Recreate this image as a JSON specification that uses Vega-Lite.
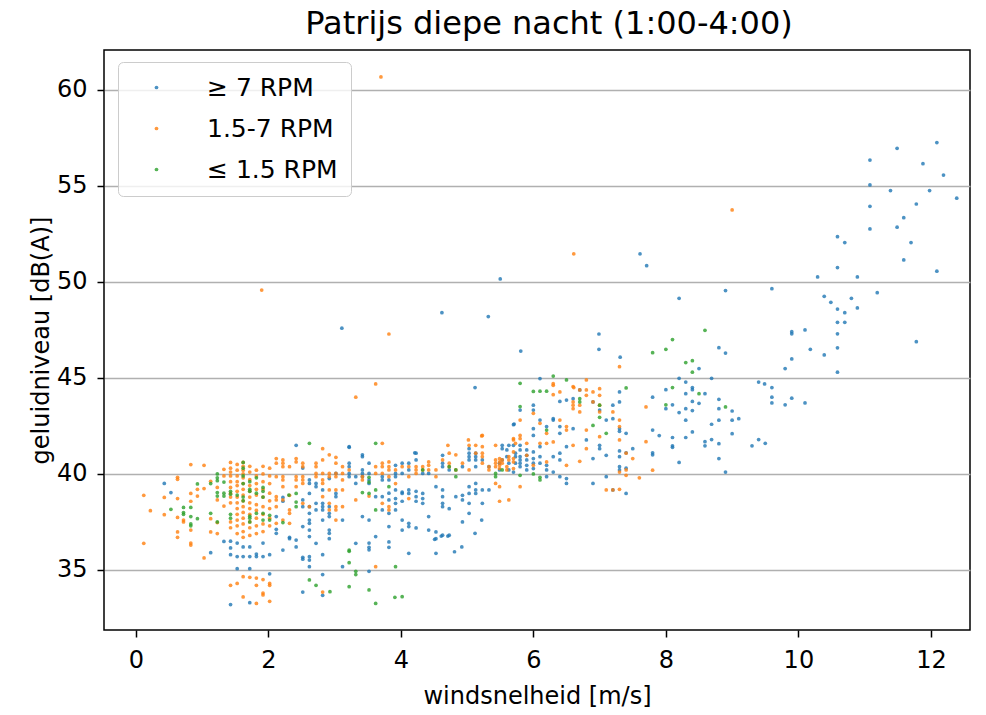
{
"$schema": "https://vega.github.io/schema/vega-lite/v6.json",
"width": 866, "height": 580,
"autosize": "none",
"padding": {"left": 104, "top": 50, "right": 16, "bottom": 85},
"background": "white",
"title": {"text": "Patrijs diepe nacht (1:00-4:00)", "fontSize": 32, "font": "DejaVu Sans", "fontWeight": "normal", "color": "black", "offset": 9, "dx": 12},
"config": {
 "view": {"stroke": "black", "strokeWidth": 1.5},
 "legend": {"orient": "none", "legendX": 14, "legendY": 12, "labelFontSize": 25, "labelFont": "DejaVu Sans", "labelColor": "black", "padding": 13, "rowPadding": 15, "fillColor": "rgba(255,255,255,0.8)", "strokeColor": "#cccccc", "cornerRadius": 5, "symbolType": "circle", "symbolSize": 14, "symbolOffset": 13, "labelOffset": 38, "labelAlign": "left", "symbolStrokeWidth": 0, "symbolOpacity": 0.8}
},
"datasets": {
"hi": [
{"w":0.43,"l":39.51},{"w":0.53,"l":39.03},{"w":1.13,"l":35.9},{"w":1.33,"l":36.49},{"w":1.43,"l":36.5},{"w":1.43,"l":36.15},{"w":1.43,"l":35.8},{"w":1.43,"l":33.2},{"w":1.53,"l":36.4},{"w":1.53,"l":35.7},{"w":1.53,"l":35.07},
{"w":1.62,"l":36.2},{"w":1.62,"l":35.7},{"w":1.72,"l":36.2},{"w":1.72,"l":35.7},{"w":1.72,"l":35.07},{"w":1.72,"l":33.3},{"w":1.82,"l":35.7},{"w":1.82,"l":35.83},{"w":1.92,"l":36.4},{"w":1.92,"l":35.7},{"w":2.02,"l":35.8},{"w":2.02,"l":34.8},
{"w":2.12,"l":37.78},{"w":2.12,"l":37.12},{"w":2.12,"l":36.91},{"w":2.22,"l":36.04},{"w":2.22,"l":38.78},{"w":2.22,"l":38.58},{"w":2.32,"l":36.7},{"w":2.32,"l":36.63},{"w":2.42,"l":41.49},{"w":2.42,"l":36.56},{"w":2.42,"l":36.2},
{"w":2.52,"l":38.65},{"w":2.52,"l":38.3},{"w":2.52,"l":37.26},{"w":2.52,"l":35.66},{"w":2.52,"l":35.56},{"w":2.52,"l":33.85},{"w":2.52,"l":40.31},
{"w":2.62,"l":39.69},{"w":2.62,"l":39.51},{"w":2.62,"l":38.99},{"w":2.62,"l":38.3},{"w":2.62,"l":37.95},{"w":2.62,"l":37.6},{"w":2.62,"l":37.43},{"w":2.62,"l":37.08},{"w":2.62,"l":36.74},{"w":2.62,"l":35.69},{"w":2.62,"l":35.52},{"w":2.62,"l":35.17},
{"w":2.72,"l":39.51},{"w":2.72,"l":39.34},{"w":2.72,"l":38.47},{"w":2.72,"l":38.13},{"w":2.72,"l":36.39},
{"w":2.82,"l":38.47},{"w":2.82,"l":38.3},{"w":2.82,"l":38.13},{"w":2.82,"l":37.6},{"w":2.82,"l":34.76},{"w":2.82,"l":33.68},{"w":2.82,"l":39.17},{"w":2.82,"l":35.8},
{"w":2.92,"l":39.76},{"w":2.92,"l":38.3},{"w":2.92,"l":37.95},{"w":2.92,"l":37.78},{"w":2.92,"l":37.08},{"w":2.92,"l":36.91},{"w":2.92,"l":36.63},
{"w":3.02,"l":40.03},{"w":3.02,"l":38.99},{"w":3.02,"l":38.82},{"w":3.12,"l":37.6},{"w":3.12,"l":35.17},
{"w":3.22,"l":41.42},{"w":3.22,"l":40.56},{"w":3.22,"l":40.38},{"w":3.22,"l":40.03},{"w":3.22,"l":39.86},{"w":3.22,"l":41.39},
{"w":3.32,"l":39.86},{"w":3.32,"l":39.51},{"w":3.32,"l":36.39},
{"w":3.42,"l":41.0},{"w":3.42,"l":40.9},{"w":3.42,"l":40.21},{"w":3.42,"l":40.03},{"w":3.42,"l":39.86},{"w":3.42,"l":37.78},
{"w":3.52,"l":40.56},{"w":3.52,"l":40.03},{"w":3.52,"l":39.69},{"w":3.52,"l":39.51},{"w":3.52,"l":37.6},{"w":3.52,"l":36.18},{"w":3.52,"l":34.93},{"w":3.52,"l":36.4},{"w":3.52,"l":36.05},
{"w":3.62,"l":38.82},{"w":3.62,"l":36.74},
{"w":3.72,"l":39.86},{"w":3.72,"l":39.69},{"w":3.72,"l":38.82},{"w":3.72,"l":38.13},
{"w":3.82,"l":39.69},{"w":3.82,"l":39.0},{"w":3.82,"l":38.65},{"w":3.82,"l":37.95},{"w":3.82,"l":37.26},{"w":3.82,"l":36.46},{"w":3.82,"l":36.18},
{"w":3.92,"l":40.45},{"w":3.92,"l":40.03},{"w":3.92,"l":39.86},{"w":3.92,"l":39.17},{"w":3.92,"l":38.72},{"w":3.92,"l":38.47},{"w":3.92,"l":38.13},
{"w":4.02,"l":40.56},{"w":4.02,"l":40.03},{"w":4.02,"l":39.06},{"w":4.02,"l":38.99},{"w":4.02,"l":38.58},{"w":4.02,"l":37.6},{"w":4.02,"l":37.08},
{"w":4.12,"l":40.56},{"w":4.12,"l":40.21},{"w":4.12,"l":39.17},{"w":4.12,"l":38.99},{"w":4.12,"l":37.43},{"w":4.12,"l":37.26},{"w":4.12,"l":35.87},
{"w":4.21,"l":41.1},{"w":4.23,"l":41.08},{"w":4.23,"l":40.73},{"w":4.23,"l":39.1},{"w":4.23,"l":38.82},{"w":4.23,"l":38.58},{"w":4.23,"l":37.19},
{"w":4.33,"l":40.03},{"w":4.33,"l":38.99},{"w":4.33,"l":38.72},{"w":4.33,"l":38.47},
{"w":4.42,"l":40.03},{"w":4.42,"l":37.78},{"w":4.42,"l":37.08},
{"w":4.51,"l":36.6},{"w":4.53,"l":39.34},{"w":4.53,"l":36.98},{"w":4.53,"l":36.63},{"w":4.53,"l":35.87},{"w":4.61,"l":36.77},
{"w":4.63,"l":40.97},{"w":4.63,"l":40.56},{"w":4.63,"l":40.38},{"w":4.63,"l":39.17},{"w":4.63,"l":38.82},{"w":4.63,"l":38.47},{"w":4.63,"l":38.3},{"w":4.63,"l":36.81},
{"w":4.71,"l":36.77},{"w":4.73,"l":40.21},{"w":4.73,"l":38.19},{"w":4.73,"l":36.81},{"w":4.81,"l":35.95},{"w":4.83,"l":38.82},{"w":4.92,"l":36.2},
{"w":4.93,"l":40.38},{"w":4.93,"l":38.89},{"w":4.93,"l":38.65},{"w":4.93,"l":37.5},
{"w":5.03,"l":41.32},{"w":5.03,"l":41.08},{"w":5.03,"l":40.9},{"w":5.03,"l":40.73},{"w":5.03,"l":39.34},{"w":5.03,"l":38.99},{"w":5.03,"l":38.47},{"w":5.03,"l":37.95},
{"w":5.12,"l":36.91},{"w":5.12,"l":44.5},
{"w":5.13,"l":41.08},{"w":5.13,"l":40.9},{"w":5.13,"l":40.73},{"w":5.13,"l":40.38},{"w":5.13,"l":39.51},{"w":5.13,"l":39.17},{"w":5.13,"l":38.99},
{"w":5.22,"l":37.6},{"w":5.23,"l":40.73},{"w":5.23,"l":39.17},{"w":5.23,"l":38.47},{"w":5.33,"l":40.38},{"w":5.33,"l":39.17},
{"w":5.49,"l":40.56},{"w":5.49,"l":40.21},{"w":5.53,"l":41.49},{"w":5.53,"l":41.32},{"w":5.53,"l":40.73},
{"w":5.6,"l":41.25},{"w":5.6,"l":40.9},{"w":5.63,"l":41.49},{"w":5.63,"l":40.56},{"w":5.63,"l":40.21},
{"w":5.7,"l":42.57},{"w":5.7,"l":41.49},{"w":5.7,"l":40.1},{"w":5.71,"l":42.6},{"w":5.73,"l":41.08},{"w":5.73,"l":40.9},{"w":5.73,"l":40.56},
{"w":5.5,"l":50.16},{"w":4.62,"l":48.4},{"w":5.32,"l":48.2},{"w":3.11,"l":47.59},{"w":5.81,"l":46.4},
{"w":5.8,"l":43.33},{"w":5.8,"l":41.49},{"w":5.8,"l":41.25},{"w":5.8,"l":40.9},{"w":5.8,"l":40.73},{"w":5.8,"l":40.56},{"w":5.8,"l":40.38},
{"w":5.9,"l":41.25},{"w":5.9,"l":40.97},{"w":5.9,"l":40.73},{"w":5.9,"l":40.45},{"w":5.9,"l":40.21},
{"w":6.0,"l":43.58},{"w":6.0,"l":43.33},{"w":6.0,"l":42.36},{"w":6.0,"l":42.01},{"w":6.0,"l":41.15},{"w":6.0,"l":40.8},{"w":6.0,"l":40.56},{"w":6.0,"l":40.28},
{"w":6.1,"l":44.97},{"w":6.1,"l":42.81},{"w":6.1,"l":41.42},{"w":6.1,"l":40.9},{"w":6.1,"l":40.56},
{"w":6.2,"l":42.47},{"w":6.2,"l":40.45},{"w":6.2,"l":40.21},{"w":6.2,"l":39.86},
{"w":6.3,"l":42.88},{"w":6.3,"l":42.81},{"w":6.3,"l":40.9},{"w":6.3,"l":40.1},
{"w":6.4,"l":43.78},{"w":6.4,"l":42.47},{"w":6.4,"l":42.12},{"w":6.4,"l":41.08},{"w":6.4,"l":40.73},{"w":6.4,"l":39.86},
{"w":6.5,"l":43.85},{"w":6.5,"l":41.42},{"w":6.5,"l":39.76},{"w":6.5,"l":39.51},
{"w":6.6,"l":43.92},{"w":6.6,"l":42.36},{"w":6.7,"l":44.38},{"w":6.8,"l":41.77},
{"w":6.9,"l":43.75},{"w":6.9,"l":40.8},{"w":6.9,"l":39.51},{"w":6.99,"l":47.29},{"w":6.99,"l":46.49},
{"w":7.0,"l":43.33},{"w":7.0,"l":41.49},{"w":7.0,"l":41.32},{"w":7.1,"l":42.81},{"w":7.1,"l":40.97},{"w":7.1,"l":39.86},
{"w":7.2,"l":43.58},{"w":7.2,"l":42.88},{"w":7.2,"l":39.17},
{"w":7.3,"l":44.27},{"w":7.3,"l":43.75},{"w":7.3,"l":42.36},{"w":7.3,"l":42.22},{"w":7.3,"l":40.38},{"w":7.3,"l":40.21},{"w":7.3,"l":41.2},{"w":7.3,"l":40.9},{"w":7.31,"l":46.08},
{"w":7.4,"l":42.12},{"w":7.4,"l":38.99},{"w":7.4,"l":41.1},{"w":7.4,"l":40.3},{"w":7.5,"l":41.32},
{"w":7.61,"l":51.46},{"w":7.71,"l":50.85},
{"w":7.8,"l":44.0},{"w":7.8,"l":42.29},{"w":7.8,"l":41.0},{"w":7.8,"l":41.1},{"w":7.9,"l":42.0},
{"w":8.0,"l":44.39},{"w":8.0,"l":43.4},{"w":8.1,"l":43.6},{"w":8.1,"l":41.9},{"w":8.1,"l":41.47},{"w":8.1,"l":41.39},
{"w":8.2,"l":49.15},{"w":8.2,"l":44.98},{"w":8.2,"l":43.2},{"w":8.2,"l":40.6},
{"w":8.3,"l":44.79},{"w":8.3,"l":44.18},{"w":8.3,"l":43.4},{"w":8.3,"l":42.8},{"w":8.3,"l":41.9},
{"w":8.4,"l":44.5},{"w":8.4,"l":44.39},{"w":8.4,"l":43.78},{"w":8.4,"l":43.3},{"w":8.4,"l":42.19},
{"w":8.5,"l":45.49},{"w":8.5,"l":43.68},{"w":8.59,"l":44.18},{"w":8.59,"l":41.68},{"w":8.59,"l":41.47},
{"w":8.69,"l":44.98},{"w":8.69,"l":42.59},{"w":8.69,"l":41.79},
{"w":8.8,"l":46.58},{"w":8.8,"l":43.89},{"w":8.8,"l":43.4},{"w":8.8,"l":42.8},{"w":8.8,"l":41.58},{"w":8.8,"l":40.8},
{"w":8.9,"l":49.55},{"w":8.9,"l":46.3},{"w":8.9,"l":40.1},
{"w":9.0,"l":43.28},{"w":9.0,"l":42.8},{"w":9.0,"l":42.1},{"w":9.1,"l":42.88},
{"w":9.3,"l":41.47},{"w":9.4,"l":41.79},{"w":9.4,"l":44.79},{"w":9.49,"l":44.69},{"w":9.5,"l":41.6},
{"w":9.6,"l":49.65},{"w":9.6,"l":44.5},{"w":9.6,"l":44.0},{"w":9.6,"l":43.7},
{"w":9.8,"l":45.49},{"w":9.8,"l":43.6},{"w":9.9,"l":47.41},{"w":9.9,"l":47.3},{"w":9.9,"l":45.99},{"w":9.9,"l":43.95},
{"w":10.1,"l":47.5},{"w":10.1,"l":43.7},{"w":10.18,"l":46.49},{"w":10.29,"l":50.26},{"w":10.39,"l":49.25},{"w":10.39,"l":46.2},{"w":10.49,"l":48.94},
{"w":10.59,"l":52.36},{"w":10.59,"l":50.75},{"w":10.59,"l":48.59},{"w":10.59,"l":47.9},{"w":10.59,"l":47.3},{"w":10.59,"l":46.57},{"w":10.59,"l":45.3},
{"w":10.7,"l":52.05},{"w":10.7,"l":48.4},{"w":10.7,"l":47.9},{"w":10.8,"l":49.15},{"w":10.89,"l":50.26},{"w":10.89,"l":48.65},
{"w":11.08,"l":56.35},{"w":11.08,"l":55.05},{"w":11.08,"l":53.94},{"w":11.08,"l":52.76},{"w":11.19,"l":49.44},{"w":11.39,"l":54.76},
{"w":11.49,"l":56.96},{"w":11.49,"l":52.85},{"w":11.59,"l":53.35},{"w":11.59,"l":51.15},{"w":11.7,"l":52.05},
{"w":11.78,"l":54.06},{"w":11.78,"l":46.89},{"w":11.88,"l":56.16},{"w":11.98,"l":54.76},{"w":12.09,"l":57.26},{"w":12.09,"l":50.56},{"w":12.19,"l":55.57},{"w":12.39,"l":54.36}
],
"mid": [
{"w":0.12,"l":38.89},{"w":0.12,"l":36.39},{"w":0.22,"l":38.09},{"w":0.43,"l":38.78},{"w":0.43,"l":37.88},
{"w":0.63,"l":39.83},{"w":0.63,"l":39.72},{"w":0.63,"l":38.72},{"w":0.63,"l":37.74},{"w":0.63,"l":36.98},{"w":0.63,"l":36.7},
{"w":0.72,"l":37.6},{"w":0.72,"l":37.5},{"w":0.83,"l":40.49},{"w":0.83,"l":38.58},{"w":0.83,"l":37.08},{"w":0.83,"l":36.4},{"w":0.83,"l":36.3},{"w":0.83,"l":38.99},
{"w":0.93,"l":39.2},{"w":0.93,"l":38.85},{"w":1.03,"l":40.45},{"w":1.03,"l":39.24},{"w":1.03,"l":35.63},
{"w":1.13,"l":39.62},{"w":1.13,"l":37.67},{"w":1.13,"l":36.98},{"w":1.23,"l":38.65},{"w":1.23,"l":37.47},{"w":1.23,"l":36.9},{"w":1.23,"l":39.3},
{"w":1.33,"l":40.24},{"w":1.33,"l":38.33},{"w":1.33,"l":39.9},
{"w":1.43,"l":40.6},{"w":1.43,"l":40.3},{"w":1.43,"l":40.1},{"w":1.43,"l":39.9},{"w":1.43,"l":39.6},{"w":1.43,"l":39.3},{"w":1.43,"l":39.0},{"w":1.43,"l":38.8},{"w":1.43,"l":38.5},{"w":1.43,"l":37.5},{"w":1.43,"l":37.2},{"w":1.43,"l":34.2},
{"w":1.53,"l":40.5},{"w":1.53,"l":40.2},{"w":1.53,"l":39.9},{"w":1.53,"l":39.6},{"w":1.53,"l":39.4},{"w":1.53,"l":39.1},{"w":1.53,"l":38.8},{"w":1.53,"l":38.5},{"w":1.53,"l":38.2},{"w":1.53,"l":37.9},{"w":1.53,"l":37.6},{"w":1.53,"l":37.3},{"w":1.53,"l":36.9},{"w":1.53,"l":34.3},
{"w":1.62,"l":40.6},{"w":1.62,"l":40.4},{"w":1.62,"l":40.2},{"w":1.62,"l":40.0},{"w":1.62,"l":39.8},{"w":1.62,"l":39.5},{"w":1.62,"l":39.2},{"w":1.62,"l":38.9},{"w":1.62,"l":38.6},{"w":1.62,"l":38.3},{"w":1.62,"l":38.0},{"w":1.62,"l":37.7},{"w":1.62,"l":37.4},{"w":1.62,"l":37.0},{"w":1.62,"l":36.7},{"w":1.62,"l":34.65},{"w":1.62,"l":33.6},
{"w":1.72,"l":40.4},{"w":1.72,"l":40.1},{"w":1.72,"l":39.7},{"w":1.72,"l":39.4},{"w":1.72,"l":39.1},{"w":1.72,"l":38.8},{"w":1.72,"l":38.5},{"w":1.72,"l":38.2},{"w":1.72,"l":37.9},{"w":1.72,"l":37.5},{"w":1.72,"l":37.2},{"w":1.72,"l":36.8},{"w":1.72,"l":34.62},
{"w":1.82,"l":40.2},{"w":1.82,"l":39.9},{"w":1.82,"l":39.5},{"w":1.82,"l":39.2},{"w":1.82,"l":38.9},{"w":1.82,"l":38.4},{"w":1.82,"l":38.1},{"w":1.82,"l":37.7},{"w":1.82,"l":37.3},{"w":1.82,"l":36.9},{"w":1.82,"l":34.58},{"w":1.82,"l":34.2},{"w":1.82,"l":33.26},
{"w":1.92,"l":40.4},{"w":1.92,"l":40.0},{"w":1.92,"l":39.6},{"w":1.92,"l":39.2},{"w":1.92,"l":38.8},{"w":1.92,"l":38.3},{"w":1.92,"l":37.9},{"w":1.92,"l":37.4},{"w":1.92,"l":37.0},{"w":1.92,"l":34.5},{"w":1.92,"l":33.8},{"w":1.92,"l":33.7},
{"w":2.02,"l":40.3},{"w":2.02,"l":39.9},{"w":2.02,"l":39.5},{"w":2.02,"l":39.0},{"w":2.02,"l":38.6},{"w":2.02,"l":38.2},{"w":2.02,"l":37.7},{"w":2.02,"l":37.3},{"w":2.02,"l":34.3},{"w":2.02,"l":34.2},{"w":2.02,"l":33.37},
{"w":2.12,"l":40.8},{"w":2.12,"l":40.56},{"w":2.12,"l":39.86},{"w":2.12,"l":38.82},{"w":2.12,"l":38.65},{"w":2.12,"l":38.3},{"w":2.12,"l":37.43},
{"w":2.22,"l":40.73},{"w":2.22,"l":40.56},{"w":2.22,"l":40.38},{"w":2.22,"l":39.86},{"w":2.22,"l":39.69},{"w":2.22,"l":39.34},{"w":2.22,"l":38.65},{"w":2.22,"l":37.6},
{"w":2.32,"l":40.38},{"w":2.32,"l":38.89},{"w":2.32,"l":38.13},{"w":2.32,"l":37.95},{"w":2.32,"l":37.43},
{"w":2.42,"l":40.8},{"w":2.42,"l":40.63},{"w":2.42,"l":39.86},{"w":2.42,"l":39.69},{"w":2.42,"l":39.34},
{"w":2.52,"l":40.56},{"w":2.52,"l":40.38},{"w":2.52,"l":39.86},{"w":2.52,"l":39.69},{"w":2.52,"l":39.51},{"w":2.52,"l":38.47},
{"w":2.62,"l":38.3},{"w":2.72,"l":40.56},{"w":2.72,"l":40.38},{"w":2.72,"l":40.03},{"w":2.72,"l":39.86},
{"w":2.82,"l":41.32},{"w":2.82,"l":40.73},{"w":2.82,"l":40.03},{"w":2.82,"l":39.69},{"w":2.82,"l":39.51},{"w":2.82,"l":38.82},{"w":2.82,"l":33.85},
{"w":2.92,"l":41.0},{"w":2.92,"l":40.03},{"w":2.92,"l":39.86},{"w":2.92,"l":39.17},{"w":2.92,"l":38.47},{"w":2.92,"l":38.13},
{"w":3.02,"l":40.87},{"w":3.02,"l":40.56},{"w":3.02,"l":40.03},{"w":3.02,"l":39.86},{"w":3.02,"l":39.17},{"w":3.02,"l":38.3},{"w":3.02,"l":38.13},{"w":3.02,"l":37.6},
{"w":3.12,"l":40.38},{"w":3.12,"l":40.03},{"w":3.12,"l":39.69},{"w":3.12,"l":39.17},{"w":3.12,"l":38.3},
{"w":3.22,"l":40.21},{"w":3.32,"l":38.65},{"w":3.32,"l":44.0},{"w":3.42,"l":39.86},{"w":3.42,"l":39.69},{"w":3.52,"l":38.85},
{"w":3.62,"l":40.03},{"w":3.62,"l":35.17},{"w":3.62,"l":40.38},{"w":3.62,"l":44.69},
{"w":3.72,"l":40.56},{"w":3.72,"l":40.38},{"w":3.72,"l":40.03},{"w":3.72,"l":38.47},{"w":3.72,"l":41.6},{"w":3.7,"l":60.68},
{"w":3.82,"l":40.63},{"w":3.82,"l":40.38},{"w":3.82,"l":40.21},{"w":3.82,"l":39.86},{"w":3.82,"l":38.3},{"w":3.82,"l":38.13},{"w":3.82,"l":47.29},
{"w":3.92,"l":40.21},{"w":3.92,"l":39.5},{"w":4.02,"l":40.38},{"w":4.12,"l":40.38},{"w":4.12,"l":39.86},{"w":4.12,"l":38.72},
{"w":4.23,"l":40.38},{"w":4.23,"l":40.21},{"w":4.23,"l":40.03},{"w":4.33,"l":40.38},{"w":4.33,"l":40.21},
{"w":4.42,"l":40.63},{"w":4.42,"l":40.45},{"w":4.42,"l":40.21},{"w":4.53,"l":40.21},{"w":4.53,"l":39.86},{"w":4.63,"l":40.73},
{"w":4.71,"l":41.49},{"w":4.73,"l":41.08},{"w":4.73,"l":40.56},{"w":4.73,"l":40.38},{"w":4.83,"l":41.0},{"w":4.83,"l":40.21},{"w":4.93,"l":40.56},
{"w":5.02,"l":41.77},{"w":5.03,"l":41.49},{"w":5.03,"l":40.21},{"w":5.13,"l":41.49},{"w":5.13,"l":41.08},
{"w":5.22,"l":41.98},{"w":5.23,"l":42.01},{"w":5.23,"l":41.42},{"w":5.23,"l":41.08},{"w":5.23,"l":40.9},{"w":5.23,"l":40.56},
{"w":5.33,"l":40.38},{"w":5.33,"l":40.21},{"w":5.43,"l":41.49},{"w":5.43,"l":40.73},{"w":5.43,"l":40.56},{"w":5.43,"l":40.38},{"w":5.43,"l":39.51},
{"w":5.49,"l":40.8},{"w":5.49,"l":40.63},{"w":5.49,"l":40.45},{"w":5.49,"l":40.28},{"w":5.49,"l":39.34},{"w":5.49,"l":38.58},
{"w":5.53,"l":40.73},{"w":5.53,"l":40.56},{"w":5.6,"l":40.38},{"w":5.6,"l":40.21},{"w":5.63,"l":40.9},{"w":5.63,"l":40.73},{"w":5.63,"l":38.65},
{"w":5.7,"l":41.84},{"w":5.7,"l":41.77},{"w":5.7,"l":41.15},{"w":5.7,"l":40.8},{"w":5.7,"l":40.63},{"w":5.7,"l":40.28},{"w":5.73,"l":41.6},
{"w":5.8,"l":42.81},{"w":5.8,"l":42.01},{"w":5.8,"l":41.84},{"w":5.8,"l":39.34},{"w":5.9,"l":41.6},{"w":5.9,"l":40.97},
{"w":6.0,"l":43.16},{"w":6.0,"l":40.45},{"w":6.1,"l":42.64},{"w":6.1,"l":41.6},{"w":6.2,"l":42.12},{"w":6.2,"l":41.6},{"w":6.2,"l":40.63},
{"w":6.3,"l":44.62},{"w":6.3,"l":44.13},{"w":6.3,"l":41.67},{"w":6.3,"l":44.7},{"w":6.4,"l":44.27},{"w":6.4,"l":42.81},
{"w":6.5,"l":42.47},{"w":6.5,"l":42.29},{"w":6.5,"l":40.45},
{"w":6.6,"l":44.55},{"w":6.6,"l":43.75},{"w":6.6,"l":43.58},{"w":6.6,"l":43.4},{"w":6.6,"l":41.49},{"w":6.61,"l":51.46},{"w":6.61,"l":44.5},
{"w":6.7,"l":44.38},{"w":6.7,"l":43.58},{"w":6.7,"l":43.23},{"w":6.7,"l":40.66},
{"w":6.8,"l":44.9},{"w":6.8,"l":44.38},{"w":6.8,"l":44.1},{"w":6.8,"l":42.29},{"w":6.8,"l":41.32},{"w":6.9,"l":44.27},{"w":6.9,"l":43.75},
{"w":7.0,"l":44.44},{"w":7.0,"l":44.1},{"w":7.0,"l":43.58},{"w":7.0,"l":43.23},{"w":7.0,"l":41.94},
{"w":7.1,"l":39.17},{"w":7.2,"l":43.23},{"w":7.2,"l":39.17},
{"w":7.3,"l":45.59},{"w":7.3,"l":42.81},{"w":7.3,"l":42.47},{"w":7.3,"l":41.77},{"w":7.3,"l":40.1},{"w":7.3,"l":39.2},
{"w":7.4,"l":41.08},{"w":7.4,"l":40.21},{"w":7.4,"l":39.93},{"w":7.5,"l":40.8},{"w":7.6,"l":39.8},{"w":7.7,"l":43.49},{"w":7.7,"l":41.68},{"w":7.8,"l":40.2},
{"w":9.0,"l":53.75},{"w":1.9,"l":49.58}
],
"lo": [
{"w":0.53,"l":38.16},{"w":0.72,"l":38.26},{"w":0.72,"l":37.99},{"w":0.72,"l":37.9},{"w":0.83,"l":38.26},{"w":0.83,"l":37.78},{"w":0.83,"l":37.4},{"w":0.83,"l":37.3},
{"w":0.93,"l":39.48},{"w":0.93,"l":37.67},{"w":1.13,"l":37.95},{"w":1.13,"l":39.5},
{"w":1.23,"l":40.0},{"w":1.23,"l":39.8},{"w":1.23,"l":39.65},{"w":1.23,"l":39.03},{"w":1.23,"l":38.85},{"w":1.23,"l":37.5},
{"w":1.33,"l":39.58},{"w":1.33,"l":39.0},{"w":1.33,"l":38.85},{"w":1.43,"l":39.1},{"w":1.43,"l":38.95},{"w":1.43,"l":37.9},{"w":1.43,"l":37.7},{"w":1.53,"l":38.9},
{"w":1.62,"l":40.6},{"w":1.62,"l":40.3},{"w":1.62,"l":39.9},{"w":1.62,"l":39.5},{"w":1.62,"l":38.8},{"w":1.62,"l":38.6},
{"w":1.72,"l":39.6},{"w":1.72,"l":39.2},{"w":1.72,"l":39.1},{"w":1.72,"l":37.8},{"w":1.72,"l":37.7},{"w":1.72,"l":37.5},
{"w":1.82,"l":39.8},{"w":1.82,"l":39.0},{"w":1.82,"l":37.95},{"w":1.92,"l":39.3},{"w":1.92,"l":39.1},{"w":1.92,"l":38.8},{"w":1.92,"l":37.95},{"w":1.92,"l":37.6},
{"w":2.02,"l":37.85},{"w":2.02,"l":37.6},{"w":2.22,"l":37.47},{"w":2.31,"l":38.9},{"w":2.42,"l":38.99},{"w":2.42,"l":38.54},{"w":2.42,"l":38.3},
{"w":2.62,"l":41.6},{"w":2.62,"l":34.48},{"w":2.72,"l":34.2},{"w":2.93,"l":33.87},
{"w":3.22,"l":36.04},{"w":3.22,"l":35.38},{"w":3.22,"l":34.13},{"w":3.22,"l":35.97},{"w":3.32,"l":34.93},{"w":3.32,"l":34.76},{"w":3.42,"l":39.03},
{"w":3.52,"l":39.83},{"w":3.52,"l":39.58},{"w":3.52,"l":38.99},{"w":3.52,"l":33.96},
{"w":3.62,"l":38.13},{"w":3.62,"l":33.26},{"w":3.62,"l":41.6},{"w":3.62,"l":39.17},{"w":3.82,"l":39.34},{"w":3.91,"l":33.58},{"w":3.92,"l":35.17},{"w":4.02,"l":33.61},
{"w":4.33,"l":40.21},{"w":4.73,"l":40.38},{"w":4.83,"l":40.21},{"w":4.83,"l":39.86},{"w":5.43,"l":40.03},{"w":5.43,"l":39.86},{"w":5.53,"l":40.21},
{"w":5.8,"l":44.72},{"w":5.8,"l":43.51},{"w":5.8,"l":39.93},{"w":6.0,"l":40.0},{"w":6.0,"l":44.3},{"w":6.1,"l":44.31},{"w":6.1,"l":39.83},{"w":6.1,"l":39.69},
{"w":6.2,"l":44.31},{"w":6.2,"l":42.29},{"w":6.3,"l":45.1},{"w":6.5,"l":44.9},{"w":6.7,"l":43.92},{"w":6.7,"l":43.75},{"w":6.9,"l":42.53},
{"w":7.0,"l":43.58},{"w":7.0,"l":42.95},{"w":7.1,"l":42.12},{"w":7.4,"l":44.48},
{"w":7.8,"l":46.32},{"w":8.0,"l":46.49},{"w":8.0,"l":43.6},{"w":8.1,"l":47.0},{"w":8.1,"l":44.5},{"w":8.3,"l":45.8},{"w":8.4,"l":45.9},{"w":8.4,"l":45.3},{"w":8.5,"l":44.18},{"w":8.59,"l":47.48},{"w":8.9,"l":43.49}
]
},
"encoding": {
 "x": {"field": "w", "type": "quantitative", "title": "windsnelheid [m/s]",
  "scale": {"domain": [-0.48, 12.59], "nice": false, "zero": false},
  "axis": {"values": [0,2,4,6,8,10,12], "grid": false, "domain": false, "tickColor": "black", "tickWidth": 1.5, "tickSize": 7, "labelFontSize": 24, "labelFont": "DejaVu Sans", "labelColor": "black", "labelPadding": 11, "titleFontSize": 24, "titleFont": "DejaVu Sans", "titleFontWeight": "normal", "titleColor": "black", "titlePadding": 12}},
 "y": {"field": "l", "type": "quantitative", "title": "geluidniveau [dB(A)]",
  "scale": {"domain": [31.875, 62.08], "nice": false, "zero": false},
  "axis": {"values": [35,40,45,50,55,60], "grid": true, "gridColor": "#b0b0b0", "gridWidth": 1.5, "domain": false, "tickColor": "black", "tickWidth": 1.5, "tickSize": 7, "labelFontSize": 24, "labelFont": "DejaVu Sans", "labelColor": "black", "labelPadding": 10, "titleFontSize": 24, "titleFont": "DejaVu Sans", "titleFontWeight": "normal", "titleColor": "black", "titlePadding": 3}}
},
"layer": [
 {"data": {"name": "hi"}, "mark": {"type": "circle", "size": 14, "opacity": 0.8},
  "encoding": {"color": {"datum": "≥ 7 RPM", "type": "nominal", "title": null, "scale": {"domain": ["≥ 7 RPM", "1.5-7 RPM", "≤ 1.5 RPM"], "range": ["#1f77b4", "#ff7f0e", "#2ca02c"]}}}},
 {"data": {"name": "mid"}, "mark": {"type": "circle", "size": 14, "opacity": 0.8},
  "encoding": {"color": {"datum": "1.5-7 RPM", "type": "nominal"}}},
 {"data": {"name": "lo"}, "mark": {"type": "circle", "size": 14, "opacity": 0.8},
  "encoding": {"color": {"datum": "≤ 1.5 RPM", "type": "nominal"}}}
]
}
